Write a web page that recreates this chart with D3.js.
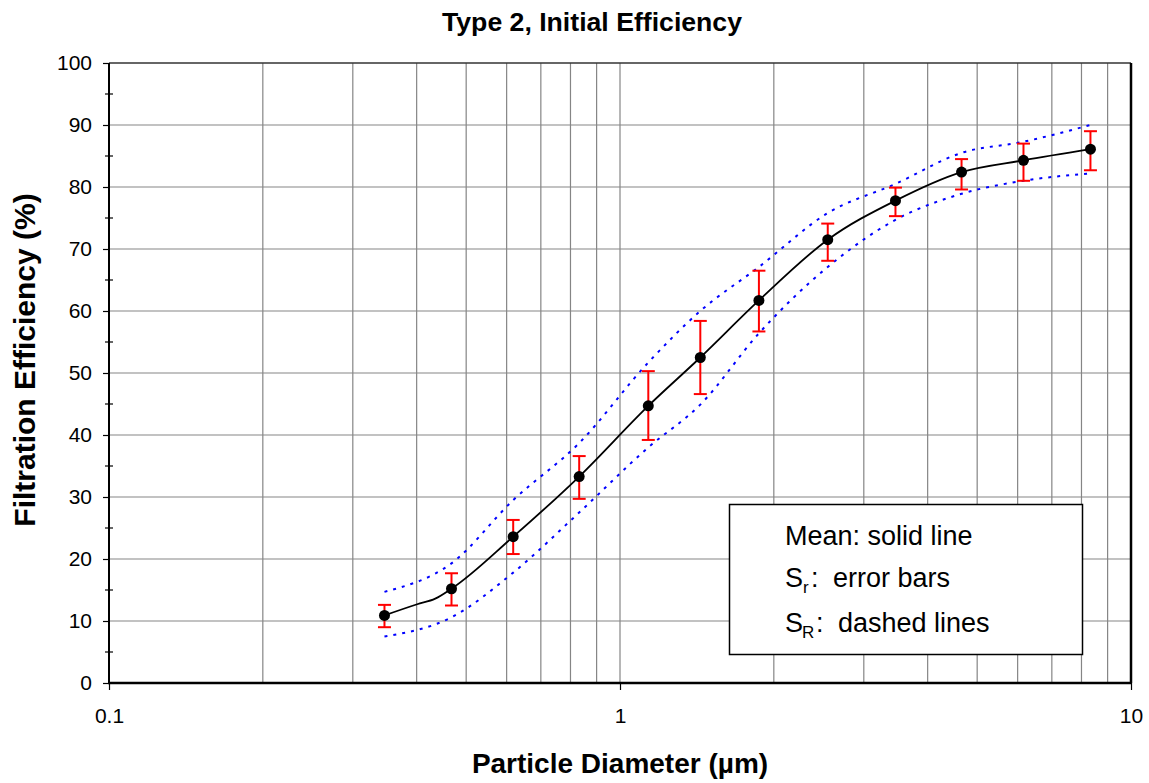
<!DOCTYPE html>
<html>
<head>
<meta charset="utf-8">
<script src="https://cdn.jsdelivr.net/npm/d3@7/dist/d3.min.js"></script>
<style>
  body { margin: 0; background: #fff; }
  svg { display: block; font-family: "Liberation Sans", Arial, Helvetica, sans-serif; }
</style>
</head>
<body>
<svg id="chart" width="1149" height="783"></svg>
<script>
// ---- data ----
const diameters = [0.346, 0.468, 0.618, 0.832, 1.136, 1.436, 1.87, 2.55, 3.46, 4.66, 6.16, 8.33];
const meanEff   = [10.9, 15.2, 23.6, 33.3, 44.7, 52.5, 61.7, 71.5, 77.8, 82.4, 84.3, 86.1];
const errHigh   = [12.6, 17.7, 26.3, 36.6, 50.3, 58.4, 66.5, 74.1, 79.9, 84.5, 87.0, 89.0];
const errLow    = [9.0, 12.5, 20.8, 29.7, 39.2, 46.6, 56.7, 68.1, 75.3, 79.6, 81.0, 82.7];
const upperSR   = [14.7, 19.3, 29.5, 38.7, 51.7, 60.0, 67.1, 75.8, 80.5, 85.5, 87.3, 90.0];
const lowerSR   = [7.5, 10.6, 17.8, 27.5, 38.0, 44.9, 56.4, 67.1, 74.7, 78.9, 81.0, 82.2];
// extra points of the solid mean curve between the first two markers
const meanCurveExtraDiam = [0.401, 0.435];
const meanCurveExtraVal  = [12.7, 13.6];

const xTickValues = [0.1, 1, 10];
const xTickLabels = ["0.1", "1", "10"];
const yTickValues = [0, 10, 20, 30, 40, 50, 60, 70, 80, 90, 100];
const yMinorTicks = [5, 15, 25, 35, 45, 55, 65, 75, 85, 95];

const titleText = "Type 2, Initial Efficiency";
const xLabelText = "Particle Diameter (µm)";
const yLabelText = "Filtration Efficiency (%)";

// ---- layout ----
const L = 109, R = 1131, T = 63, B = 683;
const svg = d3.select("#chart");
const x = d3.scaleLog().domain([0.1, 10]).range([L, R]);
const y = d3.scaleLinear().domain([0, 100]).range([B, T]);

// grid
const g = svg.append("g");
g.selectAll("line.vg").data(x.ticks().filter(d => d > 0.1 && d < 10))
  .join("line").attr("class", "vg")
  .attr("x1", d => x(d)).attr("x2", d => x(d)).attr("y1", T).attr("y2", B)
  .attr("stroke", "#858585").attr("stroke-width", 1.2);
g.selectAll("line.hg").data(yTickValues.filter(d => d > 0 && d < 100))
  .join("line").attr("class", "hg")
  .attr("x1", L).attr("x2", R).attr("y1", d => y(d)).attr("y2", d => y(d))
  .attr("stroke", "#858585").attr("stroke-width", 1.2);

// frame top / right
svg.append("line").attr("x1", L).attr("x2", R).attr("y1", T).attr("y2", T)
  .attr("stroke", "#333").attr("stroke-width", 1.5);
svg.append("line").attr("x1", R).attr("x2", R).attr("y1", T).attr("y2", B)
  .attr("stroke", "#000").attr("stroke-width", 2.5);

// axes
const yAxis = d3.axisLeft(y).tickValues(yTickValues).tickSize(6).tickPadding(11).tickFormat(d3.format("d"));
const ya = svg.append("g").attr("transform", `translate(${L},0)`).call(yAxis);
const xAxis = d3.axisBottom(x).tickValues(xTickValues).tickSize(7).tickPadding(18)
  .tickFormat((d, i) => xTickLabels[i]);
const xa = svg.append("g").attr("transform", `translate(0,${B})`).call(xAxis);
[ya, xa].forEach(a => {
  a.select(".domain").remove();
  a.selectAll(".tick line").attr("stroke", "#000").attr("stroke-width", 1.2);
  a.selectAll(".tick text").attr("fill", "#000").style("font-size", "21px")
    .style("font-family", '"Liberation Sans", Arial, sans-serif');
});
// minor y ticks (crossing)
svg.selectAll("line.ymin").data(yMinorTicks).join("line").attr("class", "ymin")
  .attr("x1", L - 4).attr("x2", L + 4).attr("y1", d => y(d)).attr("y2", d => y(d))
  .attr("stroke", "#000").attr("stroke-width", 1.2);
// axis lines
svg.append("line").attr("x1", L).attr("x2", L).attr("y1", T).attr("y2", B + 1)
  .attr("stroke", "#000").attr("stroke-width", 2);
svg.append("line").attr("x1", L - 1).attr("x2", R).attr("y1", B).attr("y2", B)
  .attr("stroke", "#000").attr("stroke-width", 2.5);

// dashed S_R lines
const pts = diameters.map((d, i) => ({ d, m: meanEff[i], hi: errHigh[i], lo: errLow[i], u: upperSR[i], l: lowerSR[i] }));
const lineU = d3.line().x(p => x(p.d)).y(p => y(p.u)).curve(d3.curveMonotoneX);
const lineL = d3.line().x(p => x(p.d)).y(p => y(p.l)).curve(d3.curveMonotoneX);
[lineU, lineL].forEach(fn => {
  svg.append("path").attr("d", fn(pts)).attr("fill", "none")
    .attr("stroke", "#0000ff").attr("stroke-width", 2).attr("stroke-dasharray", "3,6");
});

// mean curve
const meanCurve = pts.map(p => ({ d: p.d, v: p.m }))
  .concat(meanCurveExtraDiam.map((d, i) => ({ d, v: meanCurveExtraVal[i] })))
  .sort((a, b) => a.d - b.d);
svg.append("path")
  .attr("d", d3.line().x(p => x(p.d)).y(p => y(p.v)).curve(d3.curveMonotoneX)(meanCurve))
  .attr("fill", "none").attr("stroke", "#000").attr("stroke-width", 1.8);

// error bars
const eb = svg.append("g").attr("stroke", "#ff0000").attr("stroke-width", 2);
eb.selectAll("line.v").data(pts).join("line").attr("class", "v")
  .attr("x1", p => x(p.d)).attr("x2", p => x(p.d)).attr("y1", p => y(p.hi)).attr("y2", p => y(p.lo));
eb.selectAll("line.t").data(pts).join("line").attr("class", "t")
  .attr("x1", p => x(p.d) - 6.5).attr("x2", p => x(p.d) + 6.5).attr("y1", p => y(p.hi)).attr("y2", p => y(p.hi));
eb.selectAll("line.b").data(pts).join("line").attr("class", "b")
  .attr("x1", p => x(p.d) - 6.5).attr("x2", p => x(p.d) + 6.5).attr("y1", p => y(p.lo)).attr("y2", p => y(p.lo));

// markers
svg.selectAll("circle.m").data(pts).join("circle").attr("class", "m")
  .attr("cx", p => x(p.d)).attr("cy", p => y(p.m)).attr("r", 5.5).attr("fill", "#000");

// title & axis labels
svg.append("text").attr("x", 592).attr("y", 31).attr("text-anchor", "middle")
  .style("font-weight", "bold").style("font-size", "25px")
  .attr("textLength", 300).attr("lengthAdjust", "spacingAndGlyphs").text(titleText);
svg.append("text").attr("x", 620).attr("y", 773).attr("text-anchor", "middle")
  .style("font-weight", "bold").style("font-size", "28px").text(xLabelText);
svg.append("text").attr("transform", "translate(35,360) rotate(-90)").attr("text-anchor", "middle")
  .style("font-weight", "bold").style("font-size", "30px").text(yLabelText);

// legend box
const lg = svg.append("g");
lg.append("rect").attr("x", 729.5).attr("y", 504.5).attr("width", 353).attr("height", 150)
  .attr("fill", "#fff").attr("stroke", "#000").attr("stroke-width", 1.5);
const lfs = "27px";
lg.append("text").attr("x", 785).attr("y", 545).style("font-size", lfs).text("Mean: solid line");
const t2 = lg.append("text").attr("y", 587).style("font-size", lfs);
t2.append("tspan").attr("x", 785).text("S");
t2.append("tspan").attr("x", 803).attr("dy", 6).style("font-size", "17px").text("r");
t2.append("tspan").attr("x", 811).attr("dy", -6).text(":");
t2.append("tspan").attr("x", 833).text("error bars");
const t3 = lg.append("text").attr("y", 632).style("font-size", lfs);
t3.append("tspan").attr("x", 785).text("S");
t3.append("tspan").attr("x", 802).attr("dy", 6).style("font-size", "17px").text("R");
t3.append("tspan").attr("x", 816).attr("dy", -6).text(":");
t3.append("tspan").attr("x", 838).text("dashed lines");
</script>
</body>
</html>
